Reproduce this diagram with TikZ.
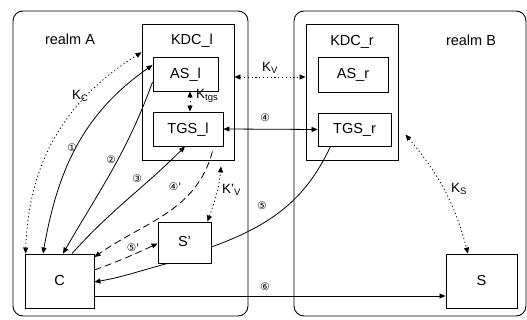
\documentclass[tikz,border=0pt]{standalone}
\usepackage{fontspec}
\setmainfont{Liberation Sans}
\newfontfamily\circfont{DejaVu Sans}
\usetikzlibrary{arrows.meta,calc}
\begin{document}
\begin{tikzpicture}[x=1pt,y=1pt,
  >={Triangle[length=6pt,width=5pt]},
  realm/.style={draw, rounded corners=10pt, line width=0.9pt, inner sep=0pt},
  box/.style={draw, line width=0.9pt, inner sep=0pt, font=\fontsize{14.5}{16}\selectfont, text height=10pt, text depth=1.5pt},
  title/.style={font=\fontsize{14.5}{16}\selectfont, inner sep=0pt, anchor=base},
  num/.style={font=\circfont\fontsize{10.5}{12}\selectfont, inner sep=0pt},
  klbl/.style={font=\fontsize{13.5}{15}\selectfont, inner sep=0pt, anchor=west},
  conn/.style={line width=0.8pt},
  dots/.style={conn, dash pattern=on 1.2pt off 2.6pt},
  dashline/.style={conn, dash pattern=on 7pt off 4pt}
]
\useasboundingbox (0,0) rectangle (527,320);
% realms
\node[realm, minimum width=235pt, minimum height=305pt] (realmA) at (130.5,156.5) {};
\node[realm, minimum width=232pt, minimum height=305pt] (realmB) at (410,156.5) {};
\node[title] (tRealmA) at (70,275) {realm A};
\node[title] (tRealmB) at (471,274) {realm B};
% KDCs
\node[box, minimum width=92pt, minimum height=136pt] (KDCl) at (188,228) {};
\node[box, minimum width=92pt, minimum height=136pt] (KDCr) at (352,228) {};
\node[title] (tKDCl) at (192,275) {KDC\_l};
\node[title] (tKDCr) at (352,274) {KDC\_r};
\node[box, minimum width=65pt, minimum height=34pt] (ASl) at (185.5,246) {AS\_l};
\node[box, minimum width=70pt, minimum height=34pt] (TGSl) at (188,191) {TGS\_l};
\node[box, minimum width=70pt, minimum height=35pt] (ASr) at (353,245.5) {AS\_r};
\node[box, minimum width=73pt, minimum height=33pt] (TGSr) at (354.5,190.5) {TGS\_r};
% principals
\node[box, minimum width=69pt, minimum height=54pt] (C) at (59.5,39) {C};
\node[box, minimum width=53pt, minimum height=41pt] (Sp) at (184.5,77.5) {S'};
\node[box, minimum width=71pt, minimum height=54pt] (S) at (481.5,39) {S};
% key connectors (dotted)
\draw[dots,<->] ([xshift=1pt]C.north west) to[out=88,in=212] ($(KDCl.north west)!0.21!(KDCl.south west)$);
\draw[dots,<->] ([yshift=15pt]KDCl.east) -- ([yshift=15pt]KDCr.west);
\draw[dots,<->] ([xshift=4.5pt]ASl.south) -- ([xshift=2pt]TGSl.north);
\draw[dots,<->] ([xshift=-4pt]Sp.north east) to[out=70,in=-95] ([xshift=33pt,yshift=-6pt]KDCl.south);
\draw[dots,<->] ([xshift=14pt,yshift=-5pt]TGSr.east) to[out=-50,in=105] ([xshift=-13.5pt]S.north);
% message connectors
\draw[conn,<->] ([xshift=-16.5pt]C.north) to[out=80,in=215] ([yshift=9pt]ASl.west);
\draw[conn,->] ([yshift=-8pt]ASl.west) to[out=-110,in=60] ([xshift=3.5pt]C.north);
\draw[conn,->] ([xshift=12.5pt]C.north) to[out=48,in=225] ([xshift=-3pt]TGSl.south);
\draw[conn,<->] (TGSl.east) -- (TGSr.west);
\draw[dashline,->] ([xshift=-11pt,yshift=-5pt]TGSl.south east) to[out=-105,in=35] ([yshift=24pt]C.east);
\draw[conn] ([xshift=-24pt]TGSr.south) to[out=-115,in=20] ([yshift=-4.5pt]Sp.east);
\draw[dashline,->] ([yshift=11pt]C.east) to[out=20,in=205] ([yshift=-1pt]Sp.west);
\draw[conn,->] ([xshift=-17pt]Sp.south) to[out=195,in=10] ([yshift=-1pt]C.east);
\draw[conn,->] ([yshift=-15pt]C.east) -- ([yshift=-15pt]S.west);
% step numbers
\node[num] (n1) at (72,172) {①};
\node[num] (n2) at (111,160) {②};
\node[num] (n3) at (137,141) {③};
\node[num] (n4) at (265,202) {④};
\node[num] (n4p) at (175,133) {④'};
\node[num] (n5) at (262,114) {⑤};
\node[num] (n5p) at (133,72) {⑤'};
\node[num] (n6) at (265,33) {⑥};
% key labels
\node[klbl] (kc) at (72,224) {K\textsubscript{C}};
\node[klbl] (kv) at (262,252) {K\textsubscript{V}};
\node[klbl] (ktgs) at (196,224) {K\textsubscript{tgs}};
\node[klbl] (kvp) at (222,130) {K'\textsubscript{V}};
\node[klbl] (ks) at (451,131) {K\textsubscript{S}};
\end{tikzpicture}
\end{document}
